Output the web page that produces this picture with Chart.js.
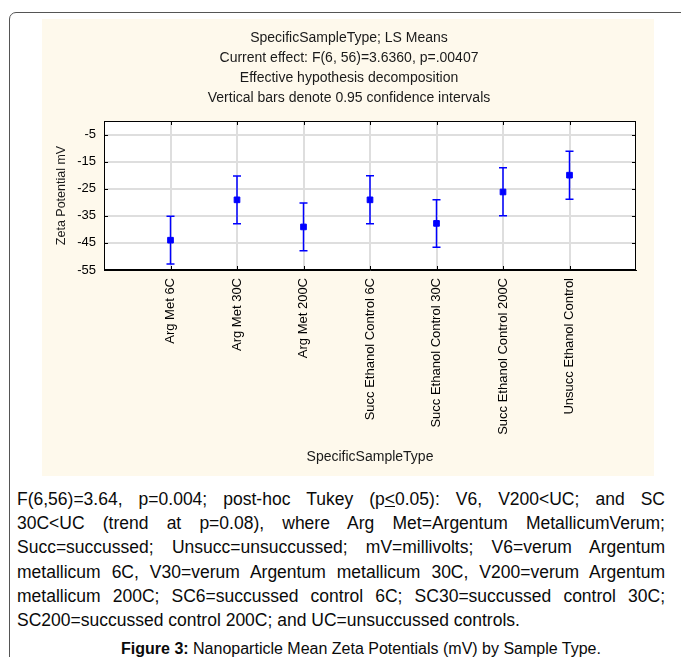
<!DOCTYPE html>
<html>
<head>
<meta charset="utf-8">
<script src="https://cdn.jsdelivr.net/npm/chart.js@4.4.1/dist/chart.umd.min.js"></script>
<style>
  html, body { margin: 0; padding: 0; background: #fff; }
  body { width: 681px; height: 657px; overflow: hidden; position: relative;
         font-family: "Liberation Sans", Arial, sans-serif; color: #111; }
  #frame { position: absolute; left: 9px; top: 12px; width: 720px; height: 720px;
           border: 1.5px solid #555; border-radius: 7px; }
  #panel { position: absolute; left: 42px; top: 19px; width: 612px; height: 457px; background: #fef9ec; }
  #note { position: absolute; left: 17px; top: 487px; width: 648px; font-size: 17.5px; line-height: 24.2px; color: #0a0a0a; }
  #note div { text-align: justify; text-align-last: justify; white-space: nowrap; }
  #note div.last { text-align-last: left; }
  #fig { position: absolute; left: 0; top: 637px; width: 722px; text-align: center; font-size: 16px; line-height: 24px; color: #0a0a0a; white-space: nowrap; }
</style>
</head>
<body>
<div id="frame"></div>
<div id="panel"><canvas id="zeta" width="612" height="457"></canvas></div>
<div id="note">
  <div>F(6,56)=3.64, p=0.004; post-hoc Tukey (p<u>&lt;</u>0.05): V6, V200&lt;UC; and SC</div>
  <div>30C&lt;UC (trend at p=0.08), where Arg Met=Argentum MetallicumVerum;</div>
  <div>Succ=succussed; Unsucc=unsuccussed; mV=millivolts; V6=verum Argentum</div>
  <div>metallicum 6C, V30=verum Argentum metallicum 30C, V200=verum Argentum</div>
  <div>metallicum 200C; SC6=succussed control 6C; SC30=succussed control 30C;</div>
  <div class="last">SC200=succussed control 200C; and UC=unsuccussed controls.</div>
</div>
<div id="fig"><b>Figure 3:</b> Nanoparticle Mean Zeta Potentials (mV) by Sample Type.</div>
<script>
const categories = ['Arg Met 6C', 'Arg Met 30C', 'Arg Met 200C', 'Succ Ethanol Control 6C',
  'Succ Ethanol Control 30C', 'Succ Ethanol Control 200C', 'Unsucc Ethanol Control'];
const means   = [-44.0, -29.1, -39.1, -29.1, -37.8, -26.2, -20.0];
const lowerCI = [-52.8, -37.9, -47.9, -37.9, -46.6, -35.0, -28.9];
const upperCI = [-35.2, -20.3, -30.3, -20.2, -29.1, -17.3, -11.2];
const yTickLabels = [-55, -45, -35, -25, -15, -5];
const titleLines = ['SpecificSampleType; LS Means', 'Current effect: F(6, 56)=3.6360, p=.00407',
  'Effective hypothesis decomposition', 'Vertical bars denote 0.95 confidence intervals'];

Chart.defaults.font.family = '"Liberation Sans", Arial, sans-serif';
Chart.defaults.color = '#000';

const blue = '#0000ff';
const gridColor = '#dedede';

// white plot area, error bars, frame and the small inward ticks
const plotDecor = {
  id: 'plotDecor',
  beforeDraw(chart) {
    const { ctx, chartArea: a } = chart;
    ctx.save();
    ctx.fillStyle = '#fff';
    ctx.fillRect(a.left, a.top, a.right - a.left, a.bottom - a.top);
    ctx.restore();
  },
  beforeDatasetsDraw(chart) {
    const { ctx, scales: { x, y } } = chart;
    ctx.save();
    ctx.strokeStyle = blue;
    ctx.lineWidth = 1.5;
    means.forEach((m, i) => {
      const px = x.getPixelForValue(i + 1);
      const top = y.getPixelForValue(upperCI[i]);
      const bot = y.getPixelForValue(lowerCI[i]);
      ctx.beginPath();
      ctx.moveTo(px, top); ctx.lineTo(px, bot);
      ctx.moveTo(px - 4, top); ctx.lineTo(px + 4, top);
      ctx.moveTo(px - 4, bot); ctx.lineTo(px + 4, bot);
      ctx.stroke();
    });
    ctx.restore();
  },
  afterDraw(chart) {
    const { ctx, chartArea: a, scales: { x, y } } = chart;
    ctx.save();
    ctx.strokeStyle = '#000';
    ctx.lineWidth = 1;
    ctx.strokeRect(Math.round(a.left) + 0.5, Math.round(a.top) + 0.5,
      Math.round(a.right - a.left) - 1, Math.round(a.bottom - a.top) - 1);
    ctx.beginPath();
    y.ticks.forEach(t => {
      const py = Math.round(y.getPixelForValue(t.value)) + 0.5;
      ctx.moveTo(a.left, py); ctx.lineTo(a.left + 4, py);
      ctx.moveTo(a.right - 4, py); ctx.lineTo(a.right, py);
    });
    x.ticks.forEach(t => {
      const px = Math.round(x.getPixelForValue(t.value)) + 0.5;
      ctx.moveTo(px, a.top); ctx.lineTo(px, a.top + 4);
      ctx.moveTo(px, a.bottom - 4); ctx.lineTo(px, a.bottom);
    });
    ctx.stroke();
    ctx.restore();
  }
};

new Chart(document.getElementById('zeta'), {
  type: 'scatter',
  data: {
    datasets: [{
      label: 'LS Means',
      data: means.map((m, i) => ({ x: i + 1, y: m })),
      pointStyle: 'rect',
      pointRadius: 4,
      borderWidth: 1,
      backgroundColor: blue,
      borderColor: blue,
      showLine: false
    }]
  },
  plugins: [plotDecor],
  options: {
    responsive: false,
    animation: false,
    layout: { padding: { left: 20, right: 18, top: 0, bottom: 0 } },
    plugins: {
      legend: { display: false },
      tooltip: { enabled: false },
      title: {
        display: true,
        text: titleLines,
        color: '#1a1a1a',
        font: { size: 14, weight: 'normal', lineHeight: 1.45 },
        padding: { top: 8.5, bottom: 12.3 }
      }
    },
    scales: {
      x: {
        type: 'linear',
        min: 0,
        max: 8,
        afterBuildTicks: s => { s.ticks = categories.map((c, i) => ({ value: i + 1 })); },
        afterFit: s => { s.height = 206; },
        ticks: {
          callback: v => categories[v - 1],
          autoSkip: false,
          minRotation: 90,
          maxRotation: 90,
          padding: 8,
          font: { size: 13 }
        },
        grid: { color: gridColor, lineWidth: 2, drawTicks: false },
        border: { color: '#000', width: 1 },
        title: { display: true, text: 'SpecificSampleType', color: '#1a1a1a',
                 font: { size: 14 }, padding: { top: 0, bottom: 10 } }
      },
      y: {
        min: -55,
        max: 0,
        afterFit: s => { s.width = 42; },
        ticks: {
          stepSize: 5,
          callback: v => yTickLabels.includes(v) ? String(v) : '',
          padding: 8,
          font: { size: 13 }
        },
        grid: { color: gridColor, lineWidth: 2, drawTicks: false },
        border: { color: '#000', width: 1 },
        title: { display: true, text: 'Zeta Potential mV', color: '#1a1a1a',
                 font: { size: 12.5 }, padding: { top: -8, bottom: 0 } }
      }
    }
  }
});
</script>
</body>
</html>
